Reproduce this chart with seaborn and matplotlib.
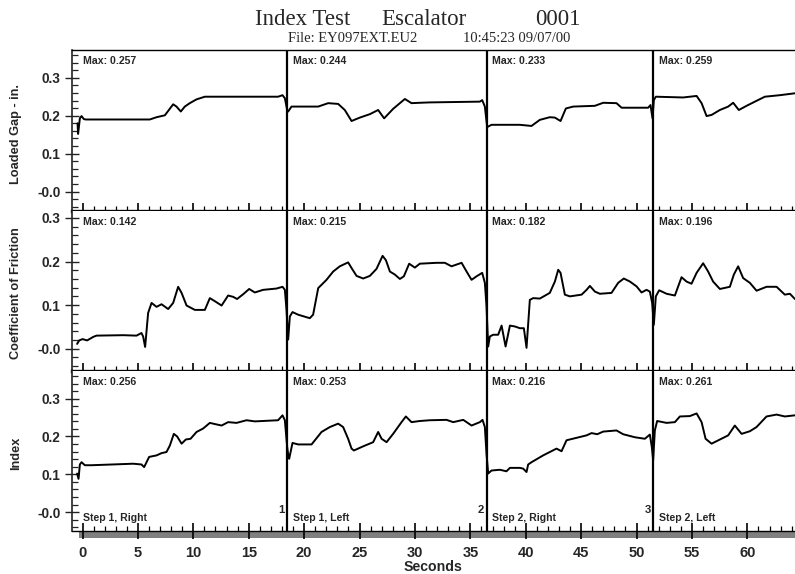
import numpy as np
import pandas as pd
import matplotlib
matplotlib.use("Agg")
import matplotlib.pyplot as plt
import seaborn as sns
from matplotlib.patches import Rectangle
from matplotlib.ticker import MultipleLocator, FuncFormatter

# ---------------- data ----------------
gap_t = [-0.45, -0.4, -0.24, -0.09, 0.12, 0.3, 6.07, 6.68, 7.43, 8.18, 8.48, 8.87, 9.23, 9.68,
         10.29, 11.04, 17.65, 18.05, 18.26, 18.47, 18.56, 18.86, 19.16, 21.27, 22.17, 23.07,
         23.67, 24.28, 25.03, 25.93, 26.68, 27.22, 28.03, 29.09, 29.69, 30.44, 31.35, 35.86,
         36.07, 36.31, 36.52, 36.91, 37.66, 39.47, 40.52, 41.27, 42.17, 42.63, 43.14, 43.62,
         44.28, 46.24, 46.99, 48.19, 48.65, 51.05, 51.26, 51.44, 51.56, 51.74, 54.21, 55.42,
         55.87, 56.32, 56.77, 57.52, 58.27, 58.72, 59.23, 59.93, 60.68, 61.58, 62.93, 64.29]
gap_v = [0.180, 0.152, 0.193, 0.199, 0.191, 0.190, 0.190, 0.196, 0.201, 0.230, 0.224, 0.211,
         0.224, 0.233, 0.243, 0.250, 0.250, 0.254, 0.246, 0.215, 0.211, 0.224, 0.224, 0.224,
         0.233, 0.231, 0.215, 0.186, 0.195, 0.204, 0.215, 0.193, 0.218, 0.244, 0.233, 0.234,
         0.235, 0.237, 0.241, 0.224, 0.170, 0.176, 0.176, 0.176, 0.173, 0.189, 0.196, 0.195,
         0.186, 0.219, 0.224, 0.226, 0.234, 0.233, 0.221, 0.221, 0.228, 0.193, 0.241, 0.250,
         0.248, 0.252, 0.233, 0.199, 0.202, 0.215, 0.224, 0.234, 0.215, 0.226, 0.237, 0.250,
         0.254, 0.259]

cof_t = [-0.49, -0.3, 0.0, 0.42, 0.96, 1.26, 3.67, 4.87, 5.32, 5.47, 5.65, 5.92, 6.23, 6.68,
         7.13, 7.73, 8.18, 8.63, 8.94, 9.39, 10.14, 11.04, 11.49, 11.94, 12.55, 13.14, 13.59,
         13.95, 14.5, 15.04, 15.55, 16.3, 17.51, 18.05, 18.26, 18.41, 18.53, 18.56, 18.71,
         18.95, 19.46, 20.51, 20.81, 21.27, 22.02, 22.62, 23.22, 23.97, 24.28, 24.73, 25.33,
         25.93, 26.53, 27.08, 27.38, 27.74, 28.19, 28.64, 29.0, 29.48, 29.99, 30.44, 31.95,
         32.7, 33.3, 34.21, 34.66, 35.11, 35.56, 36.07, 36.31, 36.46, 36.61, 36.76, 37.06,
         37.51, 37.82, 38.18, 38.57, 39.02, 39.47, 39.83, 40.07, 40.37, 40.67, 41.27, 42.17,
         42.63, 42.93, 43.14, 43.53, 43.98, 45.04, 45.49, 45.79, 46.24, 46.69, 47.74, 48.34,
         48.85, 49.4, 50.0, 50.45, 50.9, 51.2, 51.41, 51.56, 51.74, 52.04, 52.71, 53.46, 54.06,
         54.51, 54.96, 55.42, 56.01, 56.46, 56.91, 57.52, 58.42, 58.78, 59.17, 59.62, 60.23,
         60.83, 61.73, 62.64, 63.38, 63.84, 64.29]
cof_v = [0.011, 0.019, 0.022, 0.019, 0.027, 0.030, 0.031, 0.030, 0.036, 0.028, 0.004, 0.082,
         0.105, 0.096, 0.102, 0.091, 0.105, 0.142, 0.128, 0.099, 0.089, 0.089, 0.116, 0.109,
         0.099, 0.122, 0.119, 0.114, 0.125, 0.137, 0.129, 0.135, 0.138, 0.142, 0.135, 0.089,
         0.036, 0.021, 0.074, 0.084, 0.078, 0.070, 0.078, 0.139, 0.158, 0.177, 0.189, 0.198,
         0.185, 0.167, 0.161, 0.167, 0.183, 0.213, 0.203, 0.177, 0.170, 0.160, 0.166, 0.195,
         0.186, 0.195, 0.197, 0.197, 0.189, 0.197, 0.177, 0.158, 0.166, 0.174, 0.151, 0.097,
         0.005, 0.028, 0.032, 0.032, 0.053, 0.005, 0.053, 0.051, 0.047, 0.047, 0.002, 0.112,
         0.116, 0.115, 0.128, 0.154, 0.181, 0.174, 0.124, 0.120, 0.124, 0.135, 0.144, 0.131,
         0.126, 0.128, 0.151, 0.161, 0.154, 0.143, 0.129, 0.135, 0.131, 0.105, 0.055, 0.120,
         0.134, 0.126, 0.122, 0.164, 0.154, 0.149, 0.174, 0.196, 0.177, 0.154, 0.137, 0.142,
         0.170, 0.189, 0.162, 0.151, 0.133, 0.142, 0.142, 0.124, 0.126, 0.114]

idx_t = [-0.49, -0.36, -0.24, -0.09, 0.21, 0.81, 4.57, 5.32, 5.56, 6.01, 6.68, 7.13, 7.58,
         7.88, 8.24, 8.54, 8.94, 9.32, 9.75, 10.29, 10.88, 11.49, 12.09, 12.55, 13.14, 13.9,
         14.8, 15.55, 17.65, 18.05, 18.26, 18.47, 18.59, 18.65, 18.95, 19.46, 20.67, 20.97,
         21.57, 22.32, 23.07, 23.52, 23.97, 24.28, 24.49, 25.33, 26.23, 26.68, 26.99, 27.44,
         28.03, 28.79, 29.18, 29.69, 30.44, 31.35, 32.85, 33.45, 34.36, 35.11, 35.86, 36.1,
         36.31, 36.46, 36.61, 36.91, 37.66, 38.26, 38.57, 39.47, 39.77, 40.07, 40.22, 40.52,
         41.57, 42.78, 43.23, 43.68, 45.49, 45.94, 46.45, 46.99, 48.19, 48.79, 49.85, 50.75,
         51.2, 51.38, 51.5, 51.65, 51.86, 52.71, 53.46, 53.91, 54.81, 55.42, 55.87, 56.23,
         56.77, 57.52, 58.27, 58.87, 59.48, 60.23, 60.83, 61.73, 62.64, 63.38, 64.29]
idx_v = [0.102, 0.088, 0.126, 0.132, 0.124, 0.124, 0.128, 0.126, 0.119, 0.146, 0.150, 0.156,
         0.159, 0.176, 0.207, 0.200, 0.181, 0.192, 0.194, 0.212, 0.221, 0.236, 0.232, 0.229,
         0.238, 0.236, 0.243, 0.240, 0.243, 0.256, 0.243, 0.172, 0.146, 0.141, 0.183, 0.179,
         0.179, 0.190, 0.212, 0.225, 0.234, 0.225, 0.194, 0.168, 0.163, 0.174, 0.185, 0.212,
         0.194, 0.185, 0.207, 0.238, 0.253, 0.238, 0.241, 0.243, 0.244, 0.238, 0.244, 0.229,
         0.238, 0.244, 0.225, 0.154, 0.102, 0.110, 0.112, 0.108, 0.117, 0.117, 0.115, 0.106,
         0.126, 0.132, 0.150, 0.168, 0.161, 0.190, 0.203, 0.209, 0.206, 0.213, 0.216, 0.206,
         0.198, 0.194, 0.205, 0.172, 0.137, 0.216, 0.241, 0.236, 0.238, 0.253, 0.254, 0.261,
         0.238, 0.194, 0.181, 0.192, 0.203, 0.229, 0.207, 0.214, 0.225, 0.253, 0.258, 0.253,
         0.256]

segment_starts = [-0.5, 18.47, 36.46, 51.5]
segment_marks = ["1", "2", "3"]
max_gap = ["0.257", "0.244", "0.233", "0.259"]
max_cof = ["0.142", "0.215", "0.182", "0.196"]
max_idx = ["0.256", "0.253", "0.216", "0.261"]
step_labels = ["Step 1, Right", "Step 1, Left", "Step 2, Right", "Step 2, Left"]
panel_labels = ["Loaded Gap - in.", "Coefficient of Friction", "Index"]
x_label = "Seconds"
title_parts = ["Index Test", "Escalator", "0001"]
sub_parts = ["File: EY097EXT.EU2", "10:45:23 09/07/00"]

# ---------------- style ----------------
sns.set_style("white")
plt.rcParams["font.family"] = ["Liberation Sans", "DejaVu Sans"]
plt.rcParams["font.weight"] = "bold"

W, H = 795, 574
fig = plt.figure(figsize=(W / 100, H / 100), dpi=100)

def fx(px):
    return px / W

def fy(py):
    return 1 - py / H

left_px, right_px = 72, 795
panel_px = [(50, 211), (210.5, 370.5), (370.5, 531)]
ylims = [(-0.051, 0.373), (-0.05, 0.317), (-0.05, 0.3746)]

panels = [
    pd.DataFrame({"t": gap_t, "v": gap_v}),
    pd.DataFrame({"t": cof_t, "v": cof_v}),
    pd.DataFrame({"t": idx_t, "v": idx_v}),
]
maxes = [max_gap, max_cof, max_idx]

fmt = FuncFormatter(lambda v, p: "-0.0" if abs(v) < 1e-9 else f"{v:.1f}")

axes = []
for i, (top, bot) in enumerate(panel_px):
    ax = fig.add_axes([fx(left_px), fy(bot), fx(right_px - left_px), (bot - top) / H])
    axes.append(ax)
    sns.lineplot(data=panels[i], x="t", y="v", ax=ax, color="black", lw=1.4,
                 estimator=None, sort=False)
    ax.set_xlim(-0.95, 64.3)
    ax.set_ylim(*ylims[i])
    ax.set_xlabel("")
    ax.set_ylabel("")
    for s in segment_starts[1:]:
        ax.axvline(s, color="black", lw=1.6, zorder=3)

    ax.yaxis.set_major_locator(MultipleLocator(0.1))
    ax.yaxis.set_minor_locator(MultipleLocator(0.02))
    ax.yaxis.set_major_formatter(fmt)
    ax.xaxis.set_major_locator(MultipleLocator(5))
    ax.xaxis.set_minor_locator(MultipleLocator(1))

    ax.tick_params(axis="y", which="major", direction="inout", length=9.4, width=1.0,
                   labelsize=9.8, pad=3.7, left=True, color="#222222")
    ax.tick_params(axis="y", which="minor", direction="in", length=4.3, width=0.9,
                   left=True, color="#222222")
    ax.tick_params(axis="y", right=False, which="both")
    for lab in ax.get_yticklabels():
        lab.set_fontweight("bold")

    ax.spines["right"].set_visible(False)
    ax.spines["left"].set_color("#222222")
    ax.spines["left"].set_linewidth(1.2)

    if i < 2:
        ax.tick_params(axis="x", which="major", direction="in", length=5.8, width=1.2,
                       bottom=True, labelbottom=False, color="black")
        ax.tick_params(axis="x", which="minor", direction="in", length=3.6, width=0.9,
                       bottom=True, color="black")
        ax.spines["bottom"].set_linewidth(2.4)
        ax.spines["bottom"].set_color("black")
    else:
        ax.tick_params(axis="x", which="major", direction="inout", length=11.5, width=1.2,
                       bottom=True, labelbottom=True, labelsize=10.5, pad=5.0, color="black")
        ax.tick_params(axis="x", which="minor", direction="in", length=3.6, width=0.9,
                       bottom=True, color="black")
        ax.spines["bottom"].set_linewidth(1.0)
        ax.spines["bottom"].set_color("black")
        for lab in ax.get_xticklabels():
            lab.set_fontweight("bold")
        ax.set_xlabel(x_label, fontsize=10.2, fontweight="bold", labelpad=0.0)
    if i == 0:
        ax.spines["top"].set_linewidth(1.0)
        ax.spines["top"].set_color("black")
    else:
        ax.spines["top"].set_visible(False)

    # Max labels
    for s, m in zip(segment_starts, maxes[i]):
        ax.annotate(f"Max: {m}", xy=(s, 1), xycoords=("data", "axes fraction"),
                    xytext=(4.2, -4.5), textcoords="offset points",
                    ha="left", va="top", fontsize=7.6, fontweight="bold")

    # side label
    fig.text(fx(16), fy((top + bot) / 2 + 3), panel_labels[i], rotation=90,
             ha="center", va="center", fontsize=9.2, fontweight="bold")

# step labels and segment numbers on the bottom panel
axb = axes[2]
for s, lab in zip(segment_starts, step_labels):
    axb.annotate(lab, xy=(s, 0), xycoords=("data", "axes fraction"),
                 xytext=(4.2, 7.4), textcoords="offset points",
                 ha="left", va="baseline", fontsize=7.6, fontweight="bold")
for s, mk in zip(segment_starts[1:], segment_marks):
    axb.annotate(mk, xy=(s, 0), xycoords=("data", "axes fraction"),
                 xytext=(-1.6, 12.7), textcoords="offset points",
                 ha="right", va="baseline", fontsize=8.2, fontweight="bold")

# grey strip under the time axis
fig.patches.append(Rectangle((fx(79), fy(538.3)), fx(795 - 79), 7 / H,
                             transform=fig.transFigure, facecolor="#808080",
                             edgecolor="none", zorder=-1))

# title
serif = ["Liberation Serif", "DejaVu Serif"]
for txt, xpx in zip(title_parts, [255, 381, 535]):
    fig.text(fx(xpx), fy(25), txt, family=serif, fontsize=16.5, fontweight="normal",
             ha="left", va="baseline")
for txt, xpx in zip(sub_parts, [287.7, 463]):
    fig.text(fx(xpx), fy(42), txt, family=serif, fontsize=10.5, fontweight="normal",
             ha="left", va="baseline")

fig.savefig("out.png", dpi=100)
